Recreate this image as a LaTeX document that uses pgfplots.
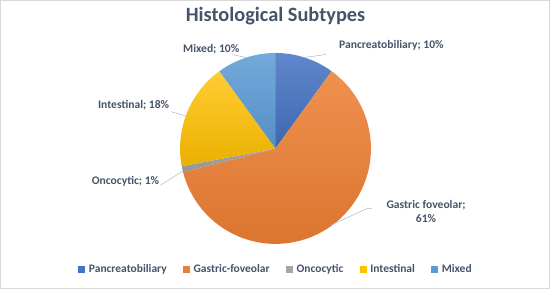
\documentclass[border=0pt]{standalone}
\usepackage{pgfplots}
\usepackage{pgfplotstable}
\pgfplotsset{compat=1.18}
\usepackage{fontspec}
\setmainfont{Carlito}
\definecolor{cPan}{HTML}{4472C4}
\definecolor{cGas}{HTML}{ED7D31}
\definecolor{cOnc}{HTML}{A5A5A5}
\definecolor{cInt}{HTML}{FFC000}
\definecolor{cMix}{HTML}{5B9BD5}
\definecolor{txt}{HTML}{44546A}
\definecolor{lead}{HTML}{A9B6CC}
\definecolor{frame}{HTML}{D9D9D9}

\pgfplotstableread{
name value
Pancreatobiliary 10
Gastric-foveolar 61
Oncocytic 1
Intestinal 18
Mixed 10
}\piedata

\begin{document}
\begin{tikzpicture}
\pgfplotstablegetelem{0}{value}\of\piedata \pgfmathsetmacro{\aA}{90-3.6*\pgfplotsretval}
\pgfplotstablegetelem{1}{value}\of\piedata \pgfmathsetmacro{\aB}{\aA-3.6*\pgfplotsretval}
\pgfplotstablegetelem{2}{value}\of\piedata \pgfmathsetmacro{\aC}{\aB-3.6*\pgfplotsretval}
\pgfplotstablegetelem{3}{value}\of\piedata \pgfmathsetmacro{\aD}{\aC-3.6*\pgfplotsretval}
\pgfplotstablegetelem{4}{value}\of\piedata \pgfmathsetmacro{\aE}{\aD-3.6*\pgfplotsretval}
\begin{axis}[
  scale only axis, width=550bp, height=292bp,
  xmin=0, xmax=550, ymin=0, ymax=292,
  axis lines=none, clip=false,
  legend columns=5,
  legend style={at={(axis cs:276,25)}, anchor=center, draw=none, fill=none,
    font=\fontsize{11.3}{13}\selectfont\bfseries, text=txt,
    /tikz/every even column/.append style={column sep=14bp},
    /tikz/every odd column/.append style={column sep=2bp},
    inner sep=0pt},
  legend image code/.code={\fill[#1] (0,-3bp) rectangle (6bp,3bp);},
]
\def\cx{275.5}\def\cy{143}\def\R{93.5bp}
% frame
\draw[frame, line width=0.8pt] (axis cs:6,6) rectangle (axis cs:544,288);
% slices
\shade[top color=cPan!85!white, bottom color=cPan!90!black] (axis cs:\cx,\cy) -- ++(90:\R) arc[start angle=90, end angle=\aA, radius=\R] -- cycle;
\shade[top color=cGas!85!white, bottom color=cGas!92!black] (axis cs:\cx,\cy) -- ++(\aA:\R) arc[start angle=\aA, end angle=\aB, radius=\R] -- cycle;
\shade[top color=cOnc, bottom color=cOnc!90!black] (axis cs:\cx,\cy) -- ++(\aB:\R) arc[start angle=\aB, end angle=\aC, radius=\R] -- cycle;
\shade[top color=cInt!80!white, bottom color=cInt!92!black] (axis cs:\cx,\cy) -- ++(\aC:\R) arc[start angle=\aC, end angle=\aD, radius=\R] -- cycle;
\shade[top color=cMix!85!white, bottom color=cMix!92!black] (axis cs:\cx,\cy) -- ++(\aD:\R) arc[start angle=\aD, end angle=\aE, radius=\R] -- cycle;
% leader lines
\draw[lead, line width=0.5pt] (axis cs:303,232) -- (axis cs:325,235);
\draw[lead, line width=0.5pt] (axis cs:233,235) -- (axis cs:247,232);
\draw[lead, line width=0.5pt] (axis cs:173,179) -- (axis cs:187,175);
\draw[lead, line width=0.5pt] (axis cs:163,107) -- (axis cs:185,121);
\draw[lead, line width=0.5pt] (axis cs:330,68) -- (axis cs:365,84) -- (axis cs:370,84);
% title
\node[text=txt, font=\fontsize{20}{22}\selectfont\bfseries] at (axis cs:275.5,273) {Histological Subtypes};
% data labels
\begin{scope}[every node/.style={text=txt, font=\fontsize{11.4}{13.5}\selectfont\bfseries, inner sep=0pt}]
\node at (axis cs:389,244) {Pancreatobiliary; 10\%};
\node at (axis cs:212.5,240) {Mixed; 10\%};
\node at (axis cs:136.5,185) {Intestinal; 18\%};
\node at (axis cs:128.5,111) {Oncocytic; 1\%};
\node[align=center] at (axis cs:423,81) {Gastric foveolar;\\61\%};
\end{scope}
% legend
\addlegendimage{cPan}\addlegendentry{Pancreatobiliary}
\addlegendimage{cGas}\addlegendentry{Gastric-foveolar}
\addlegendimage{cOnc}\addlegendentry{Oncocytic}
\addlegendimage{cInt}\addlegendentry{Intestinal}
\addlegendimage{cMix}\addlegendentry{Mixed}
\end{axis}
\end{tikzpicture}
\end{document}
